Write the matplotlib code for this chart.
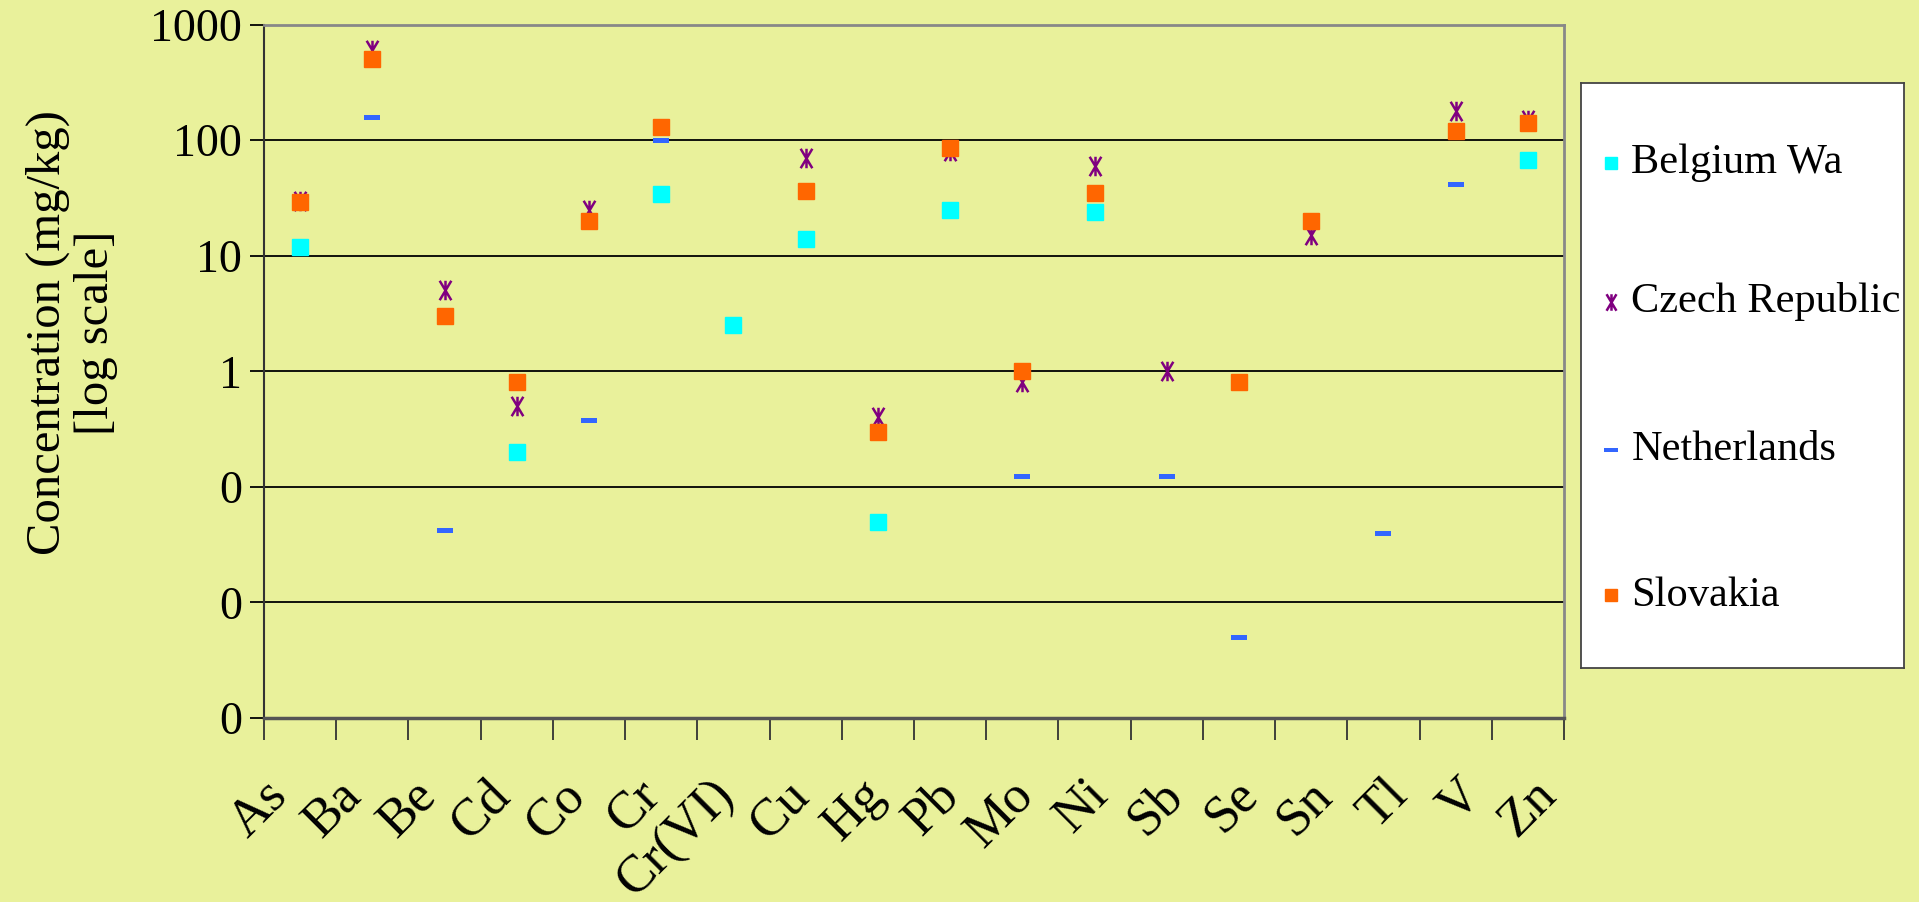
import numpy as np
import matplotlib

matplotlib.use("Agg")
import matplotlib.pyplot as plt
import matplotlib.transforms as mtransforms
from matplotlib.path import Path
from matplotlib.ticker import FixedLocator, FixedFormatter, NullLocator

plt.rcParams["font.family"] = ["Liberation Serif", "DejaVu Serif"]

nan = np.nan

elements = ["As", "Ba", "Be", "Cd", "Co", "Cr", "Cr(VI)", "Cu", "Hg", "Pb",
            "Mo", "Ni", "Sb", "Se", "Sn", "Tl", "V", "Zn"]

belgium = [12, nan, nan, 0.2, nan, 34, 2.5, 14, 0.05, 25,
           nan, 24, nan, nan, nan, nan, nan, 67]
czech = [30, 600, 5, 0.5, 25, nan, nan, 70, 0.4, 80,
         0.8, 60, 1, nan, 15, nan, 180, 150]
netherlands = [nan, 160, 0.042, nan, 0.38, 100, nan, nan, nan, nan,
               0.125, nan, 0.125, 0.005, nan, 0.04, 42, nan]
slovakia = [29, 500, 3, 0.8, 20, 130, nan, 36, 0.3, 85,
            1, 35, nan, 0.8, 20, nan, 120, 140]

series_names = ["Belgium Wa", "Czech Republic", "Netherlands", "Slovakia"]

y_ticks = [0.001, 0.01, 0.1, 1, 10, 100, 1000]
y_tick_labels = ["0", "0", "0", "1", "10", "100", "1000"]

BG = "#E9F19B"

# Excel style asterisk: vertical bar plus a steep X
star = Path(
    [(0, -1), (0, 1), (-0.6, -1), (0.6, 1), (-0.6, 1), (0.6, -1)],
    [Path.MOVETO, Path.LINETO, Path.MOVETO, Path.LINETO, Path.MOVETO, Path.LINETO],
)
dash = Path(
    [(-1.0, -0.3), (1.0, -0.3), (1.0, 0.3), (-1.0, 0.3), (-1.0, -0.3)],
    [Path.MOVETO, Path.LINETO, Path.LINETO, Path.LINETO, Path.CLOSEPOLY],
)

styles = [
    dict(marker="s", ms=11, mfc="#00FFFF", mec="#00FFFF"),
    dict(marker=star, ms=14, mfc="none", mec="#800080", mew=1.8),
    dict(marker=dash, ms=12, mfc="#3366FF", mec="#3366FF", mew=0),
    dict(marker="s", ms=11, mfc="#FF6600", mec="#FF6600"),
]

fig = plt.figure(figsize=(19.19, 9.02), dpi=100, facecolor=BG)
ax = fig.add_axes([0.1376, 0.204, 0.6774, 0.7688], facecolor=BG)

x = np.arange(len(elements))
for values, name, st in zip([belgium, czech, netherlands, slovakia], series_names, styles):
    ax.plot(x, values, ls="none", label=name, zorder=3, **st)

ax.set_yscale("log")
ax.set_ylim(0.001, 1000)
ax.set_xlim(-0.5, len(elements) - 0.5)

ax.yaxis.set_major_locator(FixedLocator(y_ticks))
ax.yaxis.set_major_formatter(FixedFormatter(y_tick_labels))
ax.yaxis.set_minor_locator(NullLocator())
ax.grid(axis="y", color="black", lw=1.3, zorder=1)

# category labels centred, tick marks between categories
ax.set_xticks(x)
ax.set_xticklabels(elements, rotation=45, ha="right", rotation_mode="anchor",
                   fontsize=38)
ax.set_xticks(np.arange(-0.5, len(elements)), minor=True)
ax.tick_params(axis="x", which="major", length=0, pad=38)
ax.tick_params(axis="x", which="minor", length=16, width=1.3, color="#333333")
ax.tick_params(axis="y", which="major", length=10, width=1.3, labelsize=33, pad=6)

# Excel spreads the rotated labels a little wider than the categories
n = len(elements)
for i, lab in enumerate(ax.get_xticklabels()):
    dx = (-38 + 42 * i / (n - 1)) / 100.0
    lab.set_transform(lab.get_transform() + mtransforms.ScaledTranslation(dx, 0, fig.dpi_scale_trans))

for side in ("top", "right"):
    ax.spines[side].set_color("#888888")
    ax.spines[side].set_linewidth(2)
ax.spines["left"].set_color("#333333")
ax.spines["left"].set_linewidth(1.5)
ax.spines["bottom"].set_color("#555555")
ax.spines["bottom"].set_linewidth(2.5)

fig.text(0.0375, 0.631, "Concentration (mg/kg)\n[log scale]", rotation=90,
         ha="center", va="center", fontsize=35, linespacing=1.12)

# legend box drawn by hand to match the tall Excel legend
lax = fig.add_axes([0.8239, 0.2594, 0.1683, 0.6486], facecolor="white")
lax.set_xlim(0, 1)
lax.set_ylim(0, 1)
lax.set_xticks([])
lax.set_yticks([])
for sp in lax.spines.values():
    sp.set_color("#444444")
    sp.set_linewidth(1.3)
legend_y = [0.864, 0.626, 0.373, 0.124]
for name, st, ly in zip(series_names, styles, legend_y):
    leg_st = dict(st)
    leg_st["ms"] = st["ms"] * 0.85
    lax.plot([0.093], [ly], ls="none", **leg_st)
    lax.text(0.156, ly, name, fontsize=30.5, ha="left", va="center")

fig.savefig("out.png", dpi=100, facecolor=BG)
